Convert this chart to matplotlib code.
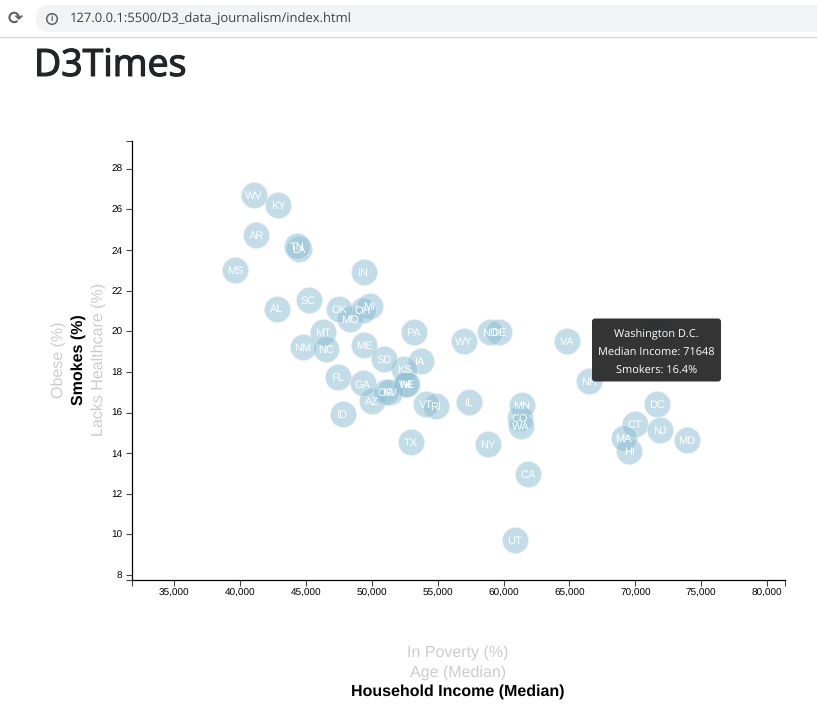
import matplotlib
matplotlib.use("Agg")
import matplotlib.pyplot as plt
import matplotlib.patheffects as pe
from matplotlib.patches import FancyBboxPatch, Circle
from matplotlib.ticker import FuncFormatter, FixedLocator

plt.rcParams["text.hinting"] = "no_hinting"
plt.rcParams["text.hinting_factor"] = 1

W, H = 817, 722
states = ["AL","AK","AZ","AR","CA","CO","CT","DE","DC","FL","GA","HI","ID","IL","IN","IA","KS","KY","LA","ME",
          "MD","MA","MI","MN","MS","MO","MT","NE","NV","NH","NJ","NM","NY","NC","ND","OH","OK","OR","PA","RI",
          "SC","SD","TN","TX","UT","VT","VA","WA","WV","WI","WY"]
income = [42769,71547,50022,41221,61888,61228,69976,59658,71648,47420,49294,69551,47799,57382,49393,53694,52450,42890,44484,49415,
          73899,69119,49825,61403,39628,48330,46282,52678,51365,66463,71850,44764,58823,46509,59005,49294,47519,51062,53186,54855,
          45197,50910,44309,52981,60849,54096,64817,61304,41024,52579,56980]
smokes = [21.12,19.97,16.56,24.73,12.96,15.73,15.45,19.94,16.4,17.73,17.43,14.12,15.94,16.53,22.93,18.55,18.14,26.22,24.03,19.33,
          14.64,14.76,21.24,16.35,23.02,20.61,19.94,17.40,17.02,17.53,15.14,19.23,14.43,19.12,19.94,21.04,21.12,17.02,19.94,16.33,
          21.53,18.64,24.22,14.53,9.74,16.41,19.53,15.33,26.73,17.40,19.53]
x_ticks = list(range(35000, 85000, 5000))
y_ticks = list(range(8, 30, 2))
x_labels = ["In Poverty (%)", "Age (Median)", "Household Income (Median)"]
y_labels = ["Obese (%)", "Smokes (%)", "Lacks Healthcare (%)"]
tooltip = ["Washington D.C.", "Median Income: 71648", "Smokers: 16.4%"]
url = "127.0.0.1:5500/D3_data_journalism/index.html"

fig = plt.figure(figsize=(W/100, H/100), dpi=100, facecolor="white")
L, R, T, B = 131.5, 785, 140.7, 579.5
ax = fig.add_axes([L/W, 1-B/H, (R-L)/W, (B-T)/H])
ax.set_xlim(31753, 81366)
ax.set_ylim(7.78, 29.38)
for s in ("top", "right"):
    ax.spines[s].set_visible(False)
for s in ("left", "bottom"):
    ax.spines[s].set_linewidth(0.9)
ax.xaxis.set_major_locator(FixedLocator(x_ticks))
ax.yaxis.set_major_locator(FixedLocator(y_ticks))
ax.xaxis.set_minor_locator(FixedLocator(list(ax.get_xlim())))
ax.yaxis.set_minor_locator(FixedLocator(list(ax.get_ylim())))
ax.xaxis.set_major_formatter(FuncFormatter(lambda v, p: f"{int(v):,}"))
ax.tick_params(which="both", length=4.3, width=0.8, color="#444444")
ax.tick_params(axis="both", which="major", labelsize=7.0, pad=2.2)
for t in ax.get_xticklabels() + ax.get_yticklabels():
    t.set_family("Liberation Sans")

ax.scatter(income, smokes, s=350, facecolor=(0.537, 0.741, 0.827, 0.5),
           edgecolor=(0.90, 0.93, 0.95, 0.5), linewidth=0.7, clip_on=False, zorder=3)
for st, xv, yv in zip(states, income, smokes):
    ax.text(xv, yv, st, color="white", ha="center", va="center_baseline", fontsize=7.9,
            family="Liberation Sans", zorder=4)

# page overlay in pixel coordinates
ov = fig.add_axes([0, 0, 1, 1], facecolor="none", zorder=5)
ov.set_xlim(0, W); ov.set_ylim(H, 0); ov.axis("off")

# browser chrome
ov.plot([0, W], [36.5, 36.5], color="#d6d7d9", lw=1)
ov.add_patch(FancyBboxPatch((48, 5), W, 27, boxstyle="round,pad=0,rounding_size=13", fc="#f1f3f4", ec="none"))
ov.add_patch(FancyBboxPatch((36, 5), 60, 27, boxstyle="round,pad=0,rounding_size=13", fc="#f1f3f4", ec="none"))
ov.text(15, 18.5, "\u27F3", ha="center", va="center", fontsize=13, color="#5f6368", family="DejaVu Sans", fontweight="bold")
ov.add_patch(Circle((52, 19), 5.3, fc="none", ec="#5f6368", lw=1.1))
ov.text(52, 19, "i", ha="center", va="center", fontsize=6.5, color="#5f6368", family="Liberation Sans", fontweight="bold")
ov.text(70, 19, url, ha="left", va="center", fontsize=9.05, color="#3c4043", family="Open Sans")

ov.text(34, 66, "D3Times", ha="left", va="center", fontsize=27, color="#212529", family="Open Sans",
        path_effects=[pe.withStroke(linewidth=0.9, foreground="#212529")])

# axis titles
for lab, py, col, wt in zip(x_labels, [653, 673, 692], ["#cccccc", "#cccccc", "black"], ["normal", "normal", "bold"]):
    ov.text(458, py, lab, ha="center", va="center", fontsize=11.25, color=col, fontweight=wt, family="Liberation Sans")
for lab, px, col, wt in zip(y_labels, [59, 79, 99], ["#cccccc", "black", "#cccccc"], ["normal", "bold", "normal"]):
    ov.text(px, 359.5, lab, ha="center", va="center", rotation=90, fontsize=11.25, color=col, fontweight=wt, family="Liberation Sans")

# tooltip
ov.add_patch(FancyBboxPatch((592, 318.5), 129, 63, boxstyle="round,pad=0,rounding_size=3",
                            fc="#2b2b2b", ec="none", alpha=0.96))
for txt, py in zip(tooltip, [334.5, 352, 370]):
    ov.text(656.5, py, txt, ha="center", va="center", fontsize=8.2, color="white", family="Open Sans")

fig.savefig("out.png", dpi=100)
